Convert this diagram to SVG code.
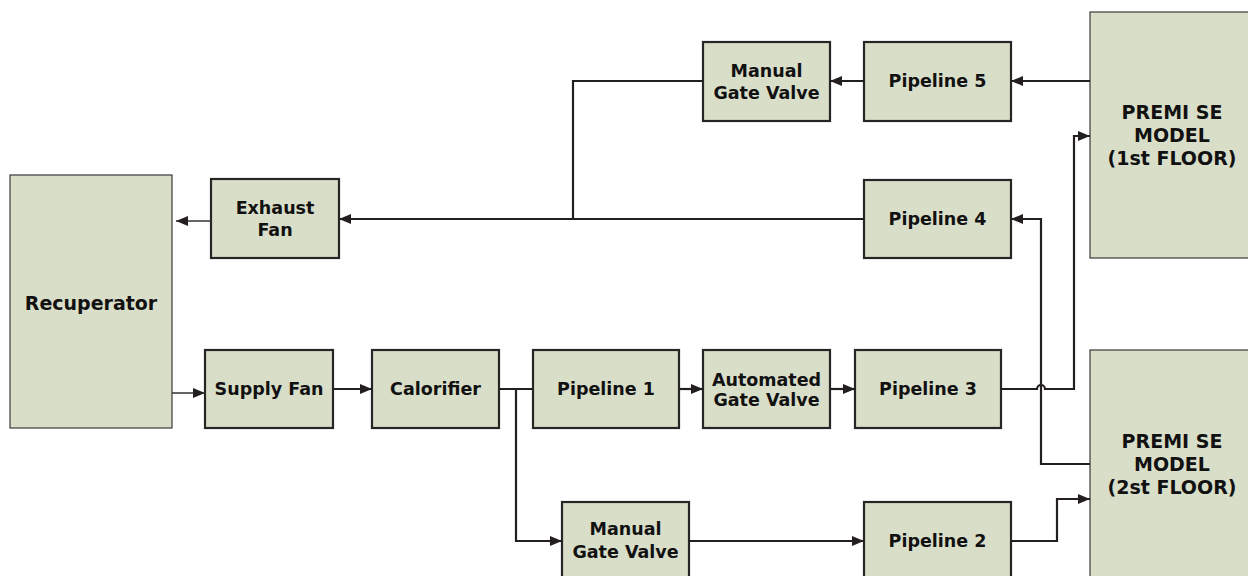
<svg xmlns="http://www.w3.org/2000/svg" width="1248" height="576" viewBox="0 0 1248 576">
<defs>
<style>
.box{fill:#d9dec9;stroke:#262626;stroke-width:2.2}
.big{fill:#d9dec9;stroke:#3a3a3a;stroke-width:1.2}
.t{font-family:"DejaVu Sans",Verdana,sans-serif;font-weight:bold;font-size:17.5px;fill:#111;text-anchor:middle}
.lg{font-size:19px}
.c{fill:none;stroke:#231f20;stroke-width:2.2}
.thin{fill:none;stroke:#333;stroke-width:1.3}
</style>
<marker id="ah" markerUnits="userSpaceOnUse" viewBox="0 0 12 10" refX="12" refY="5" markerWidth="12" markerHeight="10" orient="auto">
<path d="M0,0 L12,5 L0,10 z" fill="#231f20"/>
</marker>
</defs>
<rect width="1248" height="576" fill="#fff"/>

<g id="recuperator"><rect class="big" x="10" y="175" width="162" height="253"/><text class="t lg" x="91" y="310">Recuperator</text></g>
<g id="exhaust-fan"><rect class="box" x="211" y="179" width="128" height="79"/><text class="t" x="275" y="214">Exhaust</text><text class="t" x="275" y="236">Fan</text></g>
<g id="supply-fan"><rect class="box" x="205" y="350" width="128" height="78"/><text class="t" x="269" y="395">Supply Fan</text></g>
<g id="calorifier"><rect class="box" x="372" y="350" width="127" height="78"/><text class="t" x="435.5" y="395">Calorifier</text></g>
<g id="pipeline-1"><rect class="box" x="533" y="350" width="146" height="78"/><text class="t" x="606" y="395">Pipeline 1</text></g>
<g id="automated-gate-valve"><rect class="box" x="703" y="350" width="127" height="78"/><text class="t" x="766.5" y="386">Automated</text><text class="t" x="766.5" y="406">Gate Valve</text></g>
<g id="pipeline-3"><rect class="box" x="855" y="350" width="146" height="78"/><text class="t" x="928" y="395">Pipeline 3</text></g>
<g id="manual-gate-valve-top"><rect class="box" x="703" y="42" width="127" height="79"/><text class="t" x="766.5" y="77">Manual</text><text class="t" x="766.5" y="99">Gate Valve</text></g>
<g id="pipeline-5"><rect class="box" x="864" y="42" width="147" height="79"/><text class="t" x="937.5" y="87">Pipeline 5</text></g>
<g id="pipeline-4"><rect class="box" x="864" y="180" width="147" height="78"/><text class="t" x="937.5" y="225">Pipeline 4</text></g>
<g id="manual-gate-valve-bottom"><rect class="box" x="562" y="502" width="127" height="80"/><text class="t" x="625.5" y="535">Manual</text><text class="t" x="625.5" y="558">Gate Valve</text></g>
<g id="pipeline-2"><rect class="box" x="864" y="502" width="147" height="80"/><text class="t" x="937.5" y="547">Pipeline 2</text></g>
<g id="premise-1st"><rect class="big" x="1090" y="12" width="170" height="246"/><text class="t lg" x="1172" y="119">PREMI SE</text><text class="t lg" x="1172" y="142">MODEL</text><text class="t lg" x="1172" y="165">(1st FLOOR)</text></g>
<g id="premise-2nd"><rect class="big" x="1090" y="350" width="170" height="240"/><text class="t lg" x="1172" y="448">PREMI SE</text><text class="t lg" x="1172" y="471">MODEL</text><text class="t lg" x="1172" y="494">(2st FLOOR)</text></g>

<g id="connectors">
<path class="thin" d="M211,221 H176" marker-end="url(#ah)"/>
<path class="thin" d="M172,393 H205" marker-end="url(#ah)"/>
<path class="c" d="M333,389 H372" marker-end="url(#ah)"/>
<path class="c" d="M499,389 H533"/>
<path class="c" d="M516,389 V541 H562" marker-end="url(#ah)"/>
<path class="c" d="M679,389 H703" marker-end="url(#ah)"/>
<path class="c" d="M830,389 H855" marker-end="url(#ah)"/>
<path class="c" d="M1001,389 H1037 A4,4 0 0 1 1045,389 H1074 V136 H1090" marker-end="url(#ah)"/>
<path class="c" d="M1090,464 H1041 V219 H1011" marker-end="url(#ah)"/>
<path class="c" d="M864,219 H339" marker-end="url(#ah)"/>
<path class="c" d="M703,81 H573 V219"/>
<path class="c" d="M864,81 H830" marker-end="url(#ah)"/>
<path class="c" d="M1090,81 H1011" marker-end="url(#ah)"/>
<path class="c" d="M689,541 H864" marker-end="url(#ah)"/>
<path class="c" d="M1011,541 H1057 V499 H1090" marker-end="url(#ah)"/>
</g>
</svg>
